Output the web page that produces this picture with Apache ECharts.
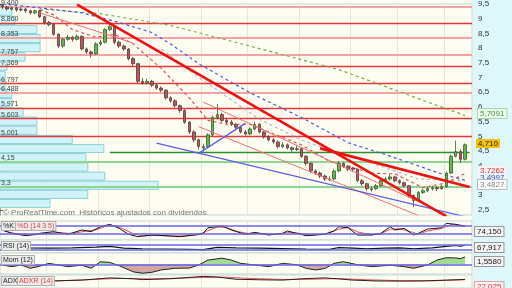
<!DOCTYPE html>
<html><head><meta charset="utf-8">
<script src="https://cdn.jsdelivr.net/npm/echarts@6/dist/echarts.min.js"></script>
<style>html,body{margin:0;padding:0;background:#fdfdf2}#c{width:512px;height:288px}</style>
</head><body><div id="c"></div>
<script>
// ---------- DATA ----------
const slotCount = 101;
const categories = Array.from({length: slotCount}, (_, i) => String(i));

const opens = [9.45,9.40,9.32,9.37,9.30,9.33,9.27,9.20,9.27,9.07,
  8.87,8.80,8.47,8.07,8.30,8.37,8.30,8.40,7.97,7.87,
  7.80,8.14,8.20,8.63,8.73,8.20,8.07,7.97,7.64,7.47,
  6.87,6.81,6.87,6.74,6.64,6.57,6.31,6.21,6.04,5.88,
  5.48,5.15,4.88,4.60,4.65,5.05,5.64,5.74,5.54,5.48,
  5.41,5.31,5.15,5.08,5.25,5.41,5.15,4.98,4.88,4.81,
  4.65,4.71,4.61,4.55,4.58,4.32,4.08,3.82,3.75,3.65,
  3.52,3.55,3.82,4.08,3.98,3.92,3.88,3.49,3.39,3.18,
  3.22,3.32,3.49,3.55,3.62,3.49,3.42,3.32,2.99,2.82,
  3.09,3.15,3.22,3.25,3.22,3.29,3.75,4.32,4.48,4.22];
const closes = [9.40,9.33,9.37,9.30,9.33,9.27,9.20,9.27,9.07,8.87,
  8.80,8.47,8.07,8.30,8.37,8.30,8.40,7.97,7.87,7.80,
  8.14,8.20,8.63,8.73,8.20,8.07,7.97,7.64,7.47,6.87,
  6.81,6.87,6.74,6.64,6.57,6.31,6.21,6.04,5.88,5.48,
  5.15,4.88,4.65,4.65,5.05,5.64,5.74,5.54,5.48,5.41,
  5.31,5.15,5.08,5.25,5.41,5.15,4.98,4.88,4.81,4.65,
  4.71,4.61,4.55,4.58,4.32,4.08,3.82,3.75,3.65,3.55,
  3.55,3.82,4.08,3.98,3.88,3.88,3.49,3.39,3.22,3.22,
  3.32,3.49,3.55,3.62,3.49,3.42,3.32,2.99,2.82,3.09,
  3.15,3.22,3.25,3.22,3.29,3.75,4.32,4.48,4.22,4.71];
const lows = [9.33,9.28,9.28,9.24,9.25,9.20,9.14,9.15,9.02,8.80,
  8.74,8.42,8.00,8.02,8.25,8.22,8.26,7.92,7.80,7.68,
  7.76,8.08,8.16,8.58,8.14,8.00,7.90,7.58,7.40,6.80,
  6.75,6.76,6.68,6.58,6.50,6.25,6.14,5.98,5.80,5.42,
  5.08,4.80,4.55,4.48,4.60,5.00,5.58,5.48,5.40,5.35,
  5.24,5.10,5.02,5.04,5.20,5.10,4.92,4.82,4.75,4.58,
  4.60,4.55,4.48,4.50,4.26,4.00,3.75,3.68,3.58,3.48,
  3.48,3.50,3.78,3.92,3.82,3.80,3.44,3.32,3.15,3.12,
  3.18,3.28,3.45,3.50,3.44,3.36,3.26,2.92,2.60,2.78,
  3.04,3.10,3.16,3.14,3.18,3.26,3.72,4.28,4.10,4.18];
const highs = [9.50,9.44,9.42,9.40,9.38,9.36,9.30,9.31,9.30,9.10,
  8.92,8.84,8.50,8.35,8.45,8.42,8.46,8.43,8.02,7.92,
  8.20,8.28,8.68,8.86,8.76,8.26,8.12,8.00,7.70,7.50,
  6.98,6.95,6.92,6.80,6.70,6.60,6.36,6.26,6.08,5.92,
  5.52,5.20,4.92,4.75,5.10,5.70,6.10,5.80,5.62,5.55,
  5.46,5.36,5.22,5.30,5.50,5.44,5.20,5.04,4.95,4.86,
  4.80,4.76,4.66,4.68,4.62,4.36,4.12,3.88,3.80,3.70,
  3.64,3.88,4.15,4.12,4.02,3.96,3.90,3.55,3.42,3.30,
  3.38,3.55,3.62,3.70,3.66,3.54,3.46,3.35,3.02,3.14,
  3.22,3.28,3.32,3.30,3.36,3.80,4.38,4.85,4.55,4.76];

const priceTicks = [2.5,3,3.5,4,4.5,5,5.5,6,6.5,7,7.5,8,8.5,9,9.5];
const redLevels = [8.86,7.369,6.797,5.971,5.603,5.001];
const redLabels = ['8,860','7,369','6,797','5,971','5,603','5,001'];
const pinkLevels = [9.4,8.353,7.757,6.488];
const pinkLabels = ['9,400','8,353','7,757','6,488'];
const greenLevels = [4.15,3.3];
const greenLabels = ['4,15','3,3'];
const darkGreenLevel = [[23,4.45],[100,4.45]];

const profileEdges = [2.56,2.87,3.18,3.49,3.80,4.11,4.43,4.74,5.05,5.36,5.67,5.98,6.30,6.61,6.92,7.23,7.54,7.86,8.17,8.48,8.79,9.10,9.42];
const profileVolume = [106,186,335,222,186,182,220,153,78,78,49,25,25,11,11,15,53,85,85,78,32,25];

const maRed = [[8,9.30],[11,9.13],[15,8.63],[20,8.37],[24,8.47],[28,8.14],[34,7.31],[40,6.31],[44,5.54],[48,5.41],[53,5.41],[57,5.15],[64,4.71],[70,4.15],[74,3.98],[79,3.75],[84,3.72],[87,3.49],[90,3.25],[95,3.42],[99,3.73]];
const maBlue = [[0,9.50],[8,9.37],[17,9.20],[25,8.87],[32,8.53],[36,8.14],[42,7.47],[53,6.48],[64,5.64],[74,4.78],[82,4.38],[94,3.72],[99,3.50]];
const maGreen = [[8,9.33],[21,9.17],[36,8.77],[53,8.07],[72,7.27],[92,6.11],[99,5.71]];
const maGrey = [[34,7.97],[40,7.24],[49,6.24],[55,5.58],[64,4.88],[72,4.42],[81,3.98],[89,3.55],[99,3.48]];

const thickRed1 = [[16,9.48],[95,2.28]];
const thickRed2 = [[68,4.59],[100,3.28]];
const thinRed1 = [[43,6.16],[95,2.34]];
const thinRed2 = [[42,5.33],[89,2.31]];
const thinRed3 = [[8,9.20],[28,8.17]];
const blueLine1 = [[33,4.77],[100,2.23]];
const blueLine2 = [[42,4.42],[52,5.44]];

const stochK = [[0,49],[2,25],[5,8],[8,25],[11,37],[14,18],[17,49],[19,37],[21,73],[23,90],[25,61],[27,18],[29,1],[32,13],[35,8],[38,1],[41,13],[43,25],[44,65],[47,78],[49,49],[52,18],[54,32],[57,13],[60,25],[61,42],[65,8],[69,18],[71,42],[72,73],[74,65],[76,13],[79,13],[81,25],[83,73],[84,49],[86,61],[88,13],[89,25],[91,56],[94,65],[95,97],[97,90],[99,74]];
const stochD = [[0,45],[3,22],[6,12],[9,22],[12,30],[15,24],[18,42],[20,50],[22,75],[24,82],[26,55],[28,22],[30,8],[33,10],[36,6],[39,6],[42,15],[44,45],[46,70],[48,68],[50,40],[53,22],[55,25],[58,18],[61,30],[63,28],[66,12],[69,20],[72,55],[74,68],[76,35],[79,15],[81,22],[83,55],[85,58],[87,40],[89,20],[91,42],[94,60],[96,88],[98,85],[99,80]];
const rsi = [[0,48],[5,45],[10,44],[15,46],[20,52],[23,58],[26,44],[30,38],[35,36],[40,32],[43,30],[46,50],[50,46],[55,44],[60,40],[65,36],[70,34],[72,48],[75,44],[78,38],[82,44],[85,46],[88,38],[92,46],[95,58],[97,66],[98,60],[99,68]];
const mom = [[0,-0.15],[2,-0.5],[4,-0.15],[6,-0.85],[8,-0.4],[10,0.2],[14,-0.5],[17,-0.2],[19,-0.85],[21,0.55],[23,0.4],[25,-0.3],[28,-1.6],[30,-1.9],[32,-1.7],[34,-1.2],[37,-0.85],[40,-0.8],[42,-0.15],[44,0.9],[47,1.3],[49,0.9],[51,0.2],[54,-0.15],[57,-0.5],[60,0.2],[63,-0.1],[65,-0.85],[67,-1.2],[69,-0.9],[71,0.2],[73,0.55],[76,-0.1],[79,-0.5],[83,-0.2],[86,-0.5],[88,-0.85],[91,-0.15],[93,0.9],[95,1.4],[97,1.35],[98,1.2],[99,1.56]];
const adx = [[0,8],[6,10],[12,16],[17,20],[23,33],[28,28],[30,23],[36,28],[43,42],[46,38],[50,25],[55,22],[60,20],[65,29],[69,33],[72,27],[75,20],[80,15],[86,14],[90,15],[95,20],[99,24]];
const adxr = [[0,12],[10,14],[18,22],[25,30],[32,27],[40,33],[47,38],[53,30],[60,24],[66,25],[72,29],[78,22],[85,17],[92,16],[99,22]];
const vLineIdx = [10,21,32,43,53,64,75,85,95];

// ---------- CHART ----------
const FONT = 'Liberation Sans';
const chart = echarts.init(document.getElementById('c'), null, {renderer:'canvas'});
const comma = v => String(v).replace('.', ',');
const bg = '#fdfdf2';

const momMin = -2.06, momMax = 2.40, momTop = 253, momH = 21;
const grids = [
  {left:0, right:40, top:-1, height:216},
  {left:0, right:40, top:221, height:19},
  {left:0, right:40, top:240, height:13},
  {left:0, right:40, top:momTop, height:momH},
  {left:0, right:40, top:275, height:30}
].map(g => Object.assign(g, {show:true, backgroundColor:bg, borderColor:'#c4d8da', borderWidth:1}));

const catAxis = gi => ({type:'category', gridIndex:gi, data:categories, boundaryGap:true,
  axisLine:{show:false}, axisTick:{show:false}, axisLabel:{show:false},
  splitLine:{show:true, interval:(i)=>vLineIdx.includes(i), lineStyle:{color:'#e6e6da', width:1}}});

const xAxes = [0,1,2,3,4].map(catAxis);
xAxes.push({type:'value', gridIndex:0, min:0, max:1000, show:false});

const hiddenY = (gi, min, max) => ({type:'value', gridIndex:gi, min, max, show:false, splitLine:{show:false}});
const yAxes = [
  {type:'value', gridIndex:0, position:'right', min:2.324, max:9.5,
   axisLine:{show:true, lineStyle:{color:'#9aa'}},
   axisTick:{show:true, length:3, customValues:priceTicks, lineStyle:{color:'#555'}},
   axisLabel:{show:true, customValues:priceTicks, formatter:comma, fontFamily:FONT, fontSize:8, color:'#333', margin:6},
   splitLine:{show:false}},
  hiddenY(1,-23,114), hiddenY(2,1.9,112.6), hiddenY(3,momMin,momMax), hiddenY(4,-26.7,50.2)
];

const lvlLine = (v, label, color, width) => ({yAxis:v, lineStyle:{color, width, type:'solid'},
  label:{show:true, formatter:label, position:'insideStartTop', distance:[1,0], fontFamily:FONT, fontSize:7, color:'#444'}});
const levelMarks = [];
redLevels.forEach((v,i)=>levelMarks.push(lvlLine(v, redLabels[i], '#e23a3a', 1.3)));
pinkLevels.forEach((v,i)=>levelMarks.push(lvlLine(v, pinkLabels[i], '#f3a3a3', 2)));
greenLevels.forEach((v,i)=>levelMarks.push(lvlLine(v, greenLabels[i], '#8fd48f', 2.2)));

const overlay = (data, color, width, type, z) => ({type:'line', xAxisIndex:0, yAxisIndex:0, data, symbol:'none',
  silent:true, z:z||3, lineStyle:{color, width, type:type||'solid'}});

const zeroOff = momMax/(momMax-momMin);
const momFill = {type:'linear', x:0, y:momTop, x2:0, y2:momTop+momH, global:true,
  colorStops:[{offset:0,color:'#98d88a'},{offset:zeroOff,color:'#98d88a'},{offset:zeroOff,color:'#cc9d96'},{offset:1,color:'#cc9d96'}]};

const series = [
  {type:'custom', xAxisIndex:5, yAxisIndex:0, z:1, silent:true,
   data: profileVolume.map((v,i)=>[profileEdges[i], profileEdges[i+1], v]),
   encode:{x:2, y:[0,1]},
   renderItem:(params, api)=>{
     const lo = api.value(0), hi = api.value(1), vol = api.value(2);
     const a = api.coord([0, hi]), b = api.coord([vol, lo]);
     return {type:'rect', shape:{x:a[0]-1, y:a[1]+0.5, width:b[0]-a[0]+1, height:b[1]-a[1]-1},
       style:{fill:'#cff3f6', stroke:'#8fd0d8', lineWidth:1}};
   }},
  {type:'candlestick', xAxisIndex:0, yAxisIndex:0, z:4, barWidth:3,
   data: opens.map((o,i)=>[o, closes[i], lows[i], highs[i]]),
   itemStyle:{color:'#5fb84a', color0:'#b85858', borderColor:'#3d5a33', borderColor0:'#5a3a3a', borderWidth:0.8},
   markLine:{symbol:['none','none'], silent:true, animation:false, z:2, data:levelMarks}},
  overlay(darkGreenLevel, '#2f8f2f', 1.5, 'solid', 2),
  overlay(maGreen, '#6fb04a', 1.2, [3,3]),
  overlay(maBlue, '#4a5ae0', 1.2, [3,3]),
  overlay(maGrey, '#b8b8b8', 1.2, [3,3]),
  overlay(maRed, '#e05050', 1.2, [3,3]),
  overlay(thinRed1, '#f07070', 1, 'solid', 5),
  overlay(thinRed2, '#f07070', 1, 'solid', 5),
  overlay(thinRed3, '#f07070', 1, 'solid', 5),
  overlay(blueLine1, '#5c5ce8', 1.2, 'solid', 5),
  overlay(blueLine2, '#5c5ce8', 1.2, 'solid', 5),
  overlay(thickRed1, '#ee1111', 2.6, 'solid', 6),
  overlay(thickRed2, '#ee1111', 2.6, 'solid', 6),
  // stochastic
  {type:'line', xAxisIndex:1, yAxisIndex:1, data:stochD, symbol:'none', lineStyle:{color:'#e85555', width:1}, z:3,
   markLine:{symbol:['none','none'], silent:true, data:[{yAxis:20},{yAxis:80}], lineStyle:{color:'#6464f0', width:1.5, type:'solid'}, label:{show:false}}},
  {type:'line', xAxisIndex:1, yAxisIndex:1, data:stochK, symbol:'none', lineStyle:{color:'#111', width:1}, z:4},
  // RSI
  {type:'line', xAxisIndex:2, yAxisIndex:2, data:rsi, symbol:'none', lineStyle:{color:'#111', width:1.2}, z:4,
   markLine:{symbol:['none','none'], silent:true, data:[{yAxis:30},{yAxis:70}], lineStyle:{color:'#6464f0', width:1.5, type:'solid'}, label:{show:false}}},
  // Momentum
  {type:'line', xAxisIndex:3, yAxisIndex:3, data:mom, symbol:'none', lineStyle:{color:'#222', width:1}, z:4,
   areaStyle:{color:momFill, opacity:0.9, origin:0},
   markLine:{symbol:['none','none'], silent:true, data:[{yAxis:0}], lineStyle:{color:'#6464f0', width:1.5, type:'solid'}, label:{show:false}}},
  // ADX
  {type:'line', xAxisIndex:4, yAxisIndex:4, data:adxr, symbol:'none', lineStyle:{color:'#e85555', width:1}, z:3},
  {type:'line', xAxisIndex:4, yAxisIndex:4, data:adx, symbol:'none', lineStyle:{color:'#222', width:1}, z:4}
];

const tag = (x, y, text, fill, bgc, border) => ({type:'text', x, y, z:100,
  style:{text, fontFamily:FONT, fontSize:8, fill, backgroundColor:bgc, borderColor:border, borderWidth:border?1:0, padding:[1,2,0,2]}});
const box = (x, y, text, fill) => ({type:'text', x, y, z:100,
  style:{text, fontFamily:FONT, fontSize:7, fill, backgroundColor:'#ececec', borderColor:'#b0b0b0', borderWidth:1, padding:[1,1,0,1]}});

const graphic = [
  {type:'rect', shape:{x:472, y:0, width:40, height:288}, style:{fill:'#def7fb'}, z:-10, silent:true},
  {type:'text', x:3, y:209, z:50, style:{text:'© ProRealTime.com  Históricos ajustados con dividendos', fontFamily:FONT, fontSize:8, fill:'#777'}},
  tag(478,109,'5,7091','#3a9a3a','#f2fbf2','#a8d8a8'),
  tag(476,139,'4,710','#222','#f2c200',null),
  tag(478,166,'3,7262','#d03030','#fbf3f3',null),
  tag(478,173,'3,4997','#3050d0','#f0f4fc',null),
  tag(478,180,'3,4827','#888','#ffffff','#bbbbbb'),
  box(2,222,'%K','#222'), box(16,222,'%D (14 3 5)','#e04040'),
  box(2,242,'RSI (14)','#222'),
  box(2,256,'Mom (12)','#222'),
  box(2,277,'ADX','#222'), box(18,277,'ADXR (14)','#e04040'),
  tag(475,227,'74,150','#222','#f4f4f4','#999'),
  tag(475,243,'67,917','#222','#f4f4f4','#999'),
  tag(475,257,'1,5580','#222','#f4f4f4','#999'),
  tag(475,282,'22,025','#e03030','#fbf3f3','#e0a0a0')
];

chart.setOption({
  animation:false,
  backgroundColor:bg,
  grid:grids,
  xAxis:xAxes,
  yAxis:yAxes,
  series,
  graphic
});
</script></body></html>
